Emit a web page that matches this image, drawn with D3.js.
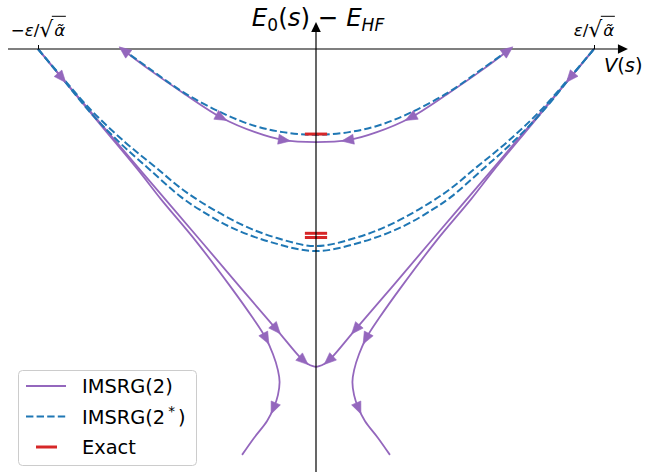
<!DOCTYPE html>
<html><head><meta charset="utf-8">
<script src="https://cdn.jsdelivr.net/npm/d3@7/dist/d3.min.js"></script>
<style>
body{margin:0;background:#fff}
svg{display:block}
text{font-family:"DejaVu Sans",sans-serif;fill:#000}
</style>
</head><body>
<svg id="chart" width="652" height="472"></svg>
<script>
// ---------------- DATA (V in units of eps/sqrt(alpha~), E0-EHF same units) ----------------
// IMSRG(2) weak-coupling flow (upper curve)
const imsrg2TopV = [-0.698,-0.597,-0.478,-0.338,-0.219,-0.119,0,0.119,0.219,0.338,0.478,0.597,0.698];
const imsrg2TopE = [0,-0.076,-0.158,-0.248,-0.299,-0.327,-0.335,-0.327,-0.299,-0.248,-0.158,-0.076,0];
// IMSRG(2*) upper curve
const imsrg2sTopV = [-0.698,-0.597,-0.478,-0.338,-0.219,-0.119,0,0.119,0.219,0.338,0.478,0.597,0.698];
const imsrg2sTopE = [0,-0.072,-0.155,-0.230,-0.277,-0.299,-0.309,-0.299,-0.277,-0.230,-0.155,-0.072,0];
// IMSRG(2*) middle curves (two)
const imsrg2sMid1V = [-1,-0.914,-0.813,-0.705,-0.597,-0.486,-0.417,-0.309,-0.165,0,0.165,0.309,0.417,0.486,0.597,0.705,0.813,0.914,1];
const imsrg2sMid1E = [0,-0.104,-0.227,-0.338,-0.435,-0.532,-0.579,-0.640,-0.694,-0.727,-0.694,-0.640,-0.579,-0.532,-0.435,-0.338,-0.227,-0.104,0];
const imsrg2sMid2V = [-1,-0.914,-0.806,-0.687,-0.579,-0.457,-0.273,-0.140,0,0.140,0.273,0.457,0.579,0.687,0.806,0.914,1];
const imsrg2sMid2E = [0,-0.101,-0.223,-0.335,-0.424,-0.522,-0.629,-0.680,-0.709,-0.680,-0.629,-0.522,-0.424,-0.335,-0.223,-0.101,0];
// IMSRG(2) strong-coupling flow meeting at the cusp
const imsrg2CuspV = [-1,-0.914,-0.773,-0.629,-0.417,-0.270,-0.140,-0.058,-0.029,-0.011,0,0.011,0.029,0.058,0.140,0.270,0.417,0.629,0.773,0.914,1];
const imsrg2CuspE = [0,-0.104,-0.270,-0.439,-0.687,-0.860,-1.011,-1.108,-1.133,-1.141,-1.143,-1.141,-1.133,-1.108,-1.011,-0.860,-0.687,-0.439,-0.270,-0.104,0];
// IMSRG(2) diverging flows (left and right)
const imsrg2DivLeftV  = [-1,-0.914,-0.777,-0.640,-0.558,-0.432,-0.309,-0.227,-0.183,-0.155,-0.137,-0.131,-0.137,-0.151,-0.176,-0.223,-0.266];
const imsrg2DivRightV = [1,0.914,0.777,0.640,0.558,0.432,0.309,0.227,0.183,0.155,0.137,0.131,0.137,0.151,0.176,0.223,0.266];
const imsrg2DivE      = [0,-0.104,-0.270,-0.435,-0.540,-0.691,-0.853,-0.968,-1.036,-1.097,-1.155,-1.198,-1.245,-1.288,-1.338,-1.399,-1.460];
// Exact energies
const exactE = [-0.306,-0.663,-0.678];
const exactHalfWidth = 0.04;
// Tick labels
const tickValues = [-1, 1];
const legendLabels = ["IMSRG(2)", "IMSRG(2*)", "Exact"];

// ---------------- SCALES ----------------
const svg = d3.select("#chart");
const x = d3.scaleLinear().domain([-1, 1]).range([38, 594]);
const y = d3.scaleLinear().domain([0, -1]).range([49, 327]);
const C = {purple:"#9467bd", blue:"#1f77b4", red:"#d62728"};

const zip = (vs, es) => vs.map((v,i)=>[v, es[i]]);
const line = d3.line().x(d=>x(d[0])).y(d=>y(d[1])).curve(d3.curveCatmullRom.alpha(0.5));

const gCurves = svg.append("g");
function drawCurve(vs, es, color, dashed){
  return gCurves.append("path").datum(zip(vs,es)).attr("d", line)
    .attr("fill","none").attr("stroke",color)
    .attr("stroke-width", dashed ? 2 : 1.8)
    .attr("stroke-dasharray", dashed ? "7.4,3.2" : null)
    .attr("stroke-linejoin","round");
}
const pTop   = drawCurve(imsrg2TopV, imsrg2TopE, C.purple, false);
const pCusp  = drawCurve(imsrg2CuspV, imsrg2CuspE, C.purple, false);
const pDivL  = drawCurve(imsrg2DivLeftV, imsrg2DivE, C.purple, false);
const pDivR  = drawCurve(imsrg2DivRightV, imsrg2DivE, C.purple, false);
drawCurve(imsrg2sTopV, imsrg2sTopE, C.blue, true);
drawCurve(imsrg2sMid1V, imsrg2sMid1E, C.blue, true);
drawCurve(imsrg2sMid2V, imsrg2sMid2E, C.blue, true);
gCurves.selectAll("line.exact").data(exactE).join("line").attr("class","exact")
  .attr("x1", x(-exactHalfWidth)).attr("x2", x(exactHalfWidth))
  .attr("y1", d=>y(d)).attr("y2", d=>y(d))
  .attr("stroke", C.red).attr("stroke-width", 3);

// ---------------- AXES (arrows through origin) ----------------
const gAx = svg.append("g");
const xAxisMin = -1.108, xAxisMax = 1.122, yAxisTop = 0.097, yAxisBottom = -1.53;
const ox = x(0), oy = y(0);
gAx.append("line").attr("x1", x(xAxisMin)).attr("x2", x(xAxisMax)-10).attr("y1", oy).attr("y2", oy)
  .attr("stroke","#000").attr("stroke-width",1.2);
gAx.append("path").attr("d", `M${x(xAxisMax)},${oy} L${x(xAxisMax)-10},${oy-4.8} L${x(xAxisMax)-10},${oy+4.8} Z`).attr("fill","#000");
gAx.append("line").attr("x1", ox).attr("x2", ox).attr("y1", y(yAxisBottom)).attr("y2", y(yAxisTop)+10)
  .attr("stroke","#000").attr("stroke-width",1.2);
gAx.append("path").attr("d", `M${ox},${y(yAxisTop)} L${ox-4.8},${y(yAxisTop)+10} L${ox+4.8},${y(yAxisTop)+10} Z`).attr("fill","#000");
// ticks
const xAxis = d3.axisTop(x).tickValues(tickValues).tickSize(4).tickSizeOuter(0).tickFormat("");
const gx = gAx.append("g").attr("transform", `translate(0,${oy})`).call(xAxis);
gx.select(".domain").remove();
gx.selectAll(".tick line").attr("stroke","#000").attr("stroke-width",1);

// tick labels with math
function tickLabel(v){
  const t = gAx.append("text").attr("x", x(v)).attr("y", 36).attr("text-anchor","middle").attr("font-size",16.7);
  if (v < 0) t.append("tspan").text("\u2212");
  t.append("tspan").attr("font-style","italic").text("\u03b5");
  t.append("tspan").text("/");
  t.append("tspan").attr("font-size",22).attr("dy",1).text("\u221a");
  t.append("tspan").attr("font-style","italic").attr("dy",-1).attr("dx",1).text("\u03b1\u0303");
  const bb = t.node().getBBox();
  const sq = t.node().getExtentOfChar(v<0 ? 3 : 2);
  gAx.append("line").attr("x1", sq.x + sq.width - 1.5).attr("x2", bb.x + bb.width + 0.5)
    .attr("y1", 16.3).attr("y2", 16.3).attr("stroke","#000").attr("stroke-width",1);
}
tickValues.forEach(tickLabel);

// axis labels
const yl = svg.append("text").attr("x", 318).attr("y", 26).attr("text-anchor","middle").attr("font-size",24.5);
yl.append("tspan").attr("font-style","italic").text("E");
yl.append("tspan").attr("font-size",17).attr("dy",5).text("0");
yl.append("tspan").attr("dy",-5).text("(");
yl.append("tspan").attr("font-style","italic").text("s");
yl.append("tspan").text(") \u2212 ");
yl.append("tspan").attr("font-style","italic").text("E");
yl.append("tspan").attr("font-style","italic").attr("font-size",17).attr("dy",5).text("HF");

const xl = svg.append("text").attr("x", 604).attr("y", 72).attr("font-size",19.4);
xl.append("tspan").attr("font-style","italic").text("V");
xl.append("tspan").text("(");
xl.append("tspan").attr("font-style","italic").text("s");
xl.append("tspan").text(")");

// ---------------- FLOW ARROWS ----------------
const gArr = svg.append("g");
function addArrows(path, specs){
  const node = path.node(), L = node.getTotalLength();
  specs.forEach(s=>{
    const tx = x(s[0]), ty = y(s[1]);
    let best=0, bd=Infinity;
    for (let l=0; l<=L; l+=0.5){ const p=node.getPointAtLength(l); const d=(p.x-tx)**2+(p.y-ty)**2; if(d<bd){bd=d;best=l;} }
    const p1=node.getPointAtLength(Math.max(0,best-2)), p2=node.getPointAtLength(Math.min(L,best+2));
    let dx=p2.x-p1.x, dy=p2.y-p1.y; const n=Math.hypot(dx,dy); dx/=n; dy/=n;
    if (s[2]<0){dx=-dx;dy=-dy;}
    const c=node.getPointAtLength(best), len=12, hw=5;
    const tip=[c.x+dx*len/2, c.y+dy*len/2], b=[c.x-dx*len/2, c.y-dy*len/2];
    gArr.append("path").attr("d",`M${tip[0]},${tip[1]} L${b[0]-dy*hw},${b[1]+dx*hw} L${b[0]+dy*hw},${b[1]-dx*hw} Z`)
      .attr("fill", C.purple).attr("stroke", C.purple).attr("stroke-width",0.6).attr("stroke-linejoin","round");
  });
}
// [V, E, direction along drawn path]
const topArrows = [[-0.689,-0.004,-1],[-0.338,-0.242,1],[-0.113,-0.325,1],[0.113,-0.325,-1],[0.338,-0.242,-1],[0.689,-0.004,1]];
const cuspArrows = [[-0.914,-0.103,1],[-0.142,-1.009,1],[-0.045,-1.121,1],[0.142,-1.009,-1],[0.045,-1.121,-1],[0.914,-0.103,-1]];
const divLeftArrows = [[-0.182,-1.043,1],[-0.156,-1.291,1]];
const divRightArrows = [[0.182,-1.043,1],[0.156,-1.291,1]];
addArrows(pTop, topArrows);
addArrows(pCusp, cuspArrows);
addArrows(pDivL, divLeftArrows);
addArrows(pDivR, divRightArrows);

// ---------------- LEGEND ----------------
const lg = svg.append("g");
lg.append("rect").attr("x",18.5).attr("y",370.5).attr("width",178).attr("height",95).attr("rx",4)
  .attr("fill","#fff").attr("fill-opacity",0.8).attr("stroke","#cccccc").attr("stroke-width",1);
const rows = [386, 416.5, 447];
lg.append("line").attr("x1",26).attr("x2",66).attr("y1",rows[0]).attr("y2",rows[0]).attr("stroke",C.purple).attr("stroke-width",1.8);
lg.append("line").attr("x1",26).attr("x2",67).attr("y1",rows[1]).attr("y2",rows[1]).attr("stroke",C.blue).attr("stroke-width",2).attr("stroke-dasharray","7.4,3.2");
lg.append("line").attr("x1",36).attr("x2",57).attr("y1",rows[2]).attr("y2",rows[2]).attr("stroke",C.red).attr("stroke-width",3);
lg.append("text").attr("x",82).attr("y",rows[0]+7).attr("font-size",19.4).text(legendLabels[0]);
const t2 = lg.append("text").attr("x",82).attr("y",rows[1]+7).attr("font-size",19.4);
t2.append("tspan").text("IMSRG(2");
t2.append("tspan").attr("font-size",13.6).attr("dy",-8).attr("dx",3).text("*");
t2.append("tspan").attr("dy",8).attr("dx",3).text(")");
lg.append("text").attr("x",82).attr("y",rows[2]+7).attr("font-size",19.4).text(legendLabels[2]);
</script>
</body></html>
